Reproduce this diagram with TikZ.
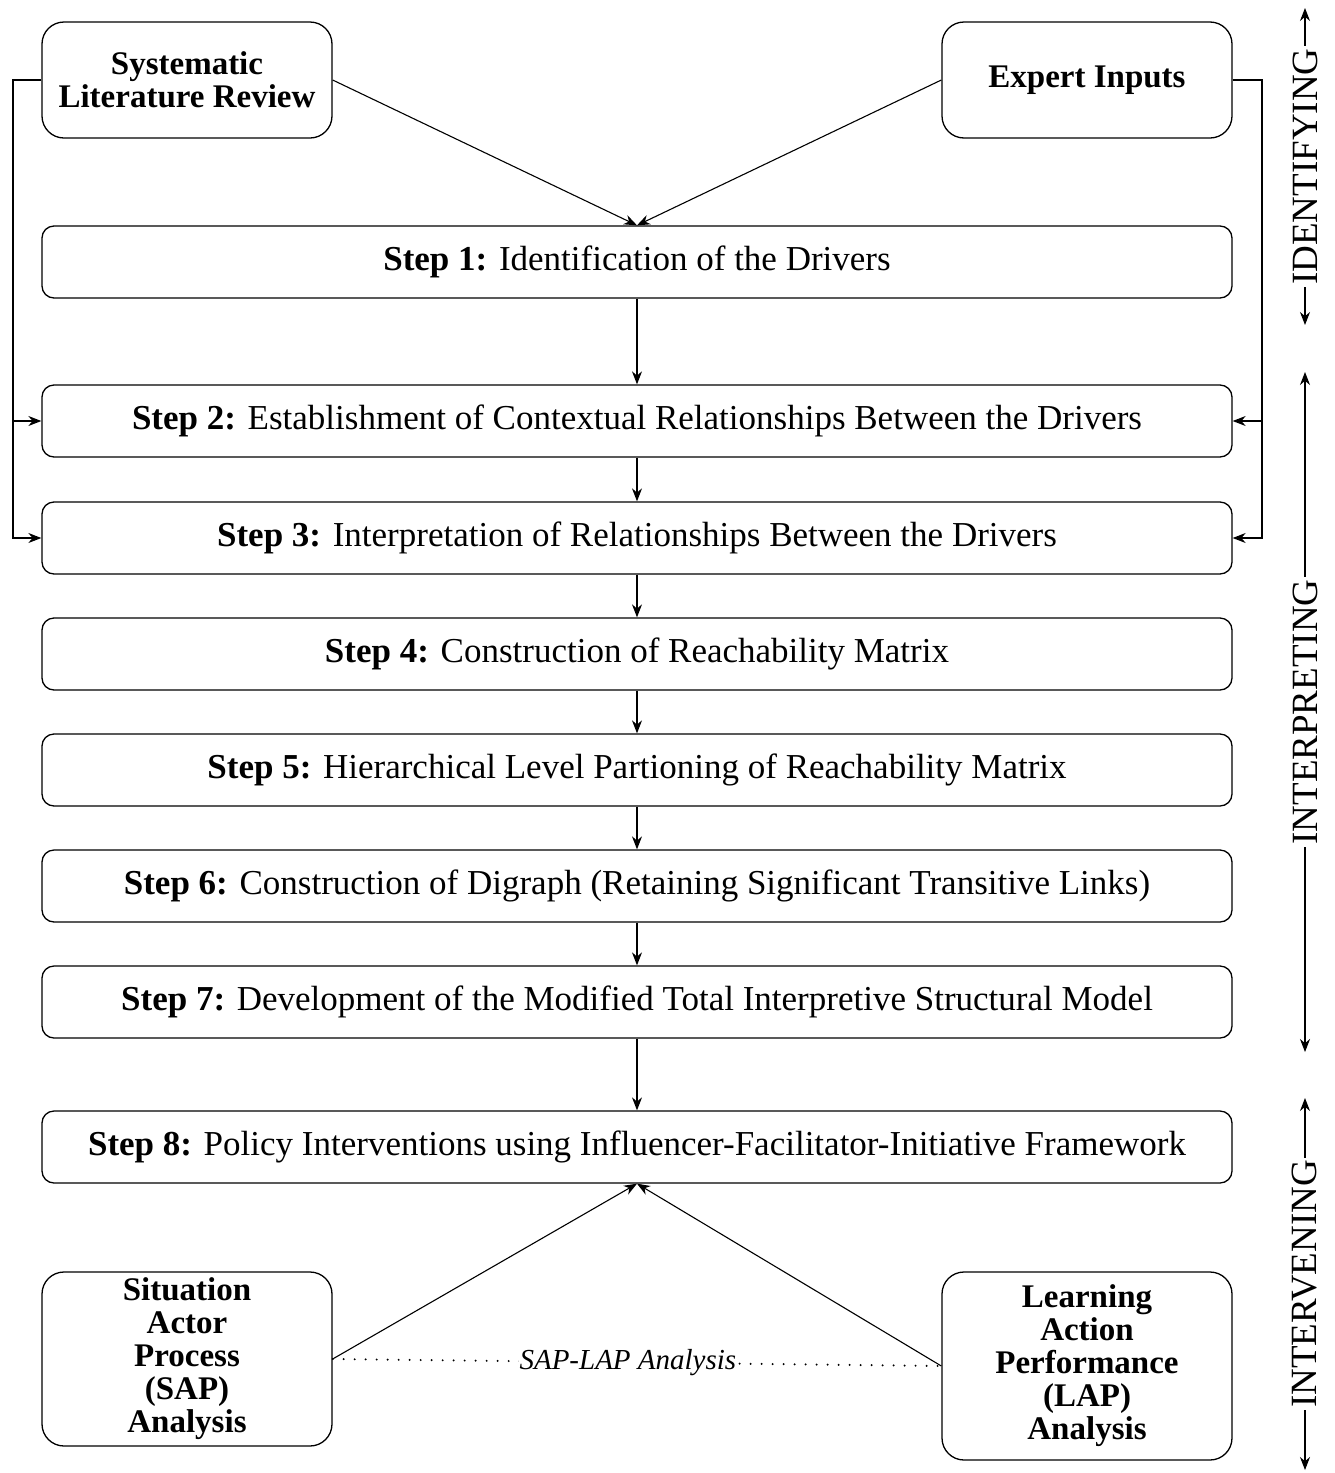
\documentclass[tikz,border=0pt]{standalone}
\usepackage{fontspec}
\setmainfont{Liberation Serif}
\usetikzlibrary{arrows.meta,positioning}

\begin{document}
\begin{tikzpicture}[
    x=1pt, y=-1pt,
    stepbox/.style={draw, rounded corners=12pt, line width=1.3pt, minimum width=1190pt, minimum height=72pt, inner sep=0pt, font=\fontsize{35}{38}\selectfont},
    srcbox/.style={draw, rounded corners=22pt, line width=1.3pt, minimum width=290pt, align=center, inner sep=0pt, font=\bfseries\fontsize{33}{33}\selectfont},
    phase/.style={rotate=90, fill=white, inner sep=2pt, font=\fontsize{37}{38}\selectfont},
    arr/.style={-{Stealth[length=13pt,width=10pt]}, line width=1.1pt},
    darr/.style={{Stealth[length=13pt,width=10pt]}-{Stealth[length=13pt,width=10pt]}, line width=1.1pt}
]
\useasboundingbox (0,0) rectangle (1335,1473);

% sources
\node[srcbox, minimum height=116pt] (slr) at (187,80) {Systematic\\Literature Review};
\node[srcbox, minimum height=116pt] (expert) at (1087,80) {Expert Inputs};

% steps
\node[stepbox] (step1) at (637,262) {\textbf{Step 1:} Identification of the Drivers};
\node[stepbox] (step2) at (637,421) {\textbf{Step 2:} Establishment of Contextual Relationships Between the Drivers};
\node[stepbox] (step3) at (637,538) {\textbf{Step 3:} Interpretation of Relationships Between the Drivers};
\node[stepbox] (step4) at (637,654) {\textbf{Step 4:} Construction of Reachability Matrix};
\node[stepbox] (step5) at (637,770) {\textbf{Step 5:} Hierarchical Level Partioning of Reachability Matrix};
\node[stepbox] (step6) at (637,886) {\textbf{Step 6:} Construction of Digraph (Retaining Significant Transitive Links)};
\node[stepbox] (step7) at (637,1002) {\textbf{Step 7:} Development of the Modified Total Interpretive Structural Model};
\node[stepbox] (step8) at (637,1147) {\textbf{Step 8:} Policy Interventions using Influencer-Facilitator-Initiative Framework};

% analyses
\node[srcbox, minimum height=174pt] (sap) at (187,1359) {Situation\\Actor\\Process\\(SAP)\\Analysis};
\node[srcbox, minimum height=188pt] (lap) at (1087,1366) {Learning\\Action\\Performance\\(LAP)\\Analysis};

\draw[arr] (slr.east) -- (step1.north);
\draw[arr] (expert.west) -- (step1.north);
\draw[arr] (step1) -- (step2);
\draw[arr] (step2) -- (step3);
\draw[arr] (step3) -- (step4);
\draw[arr] (step4) -- (step5);
\draw[arr] (step5) -- (step6);
\draw[arr] (step6) -- (step7);
\draw[arr] (step7) -- (step8);
\draw[arr] (sap.east) -- (step8.south);
\draw[arr] (lap.west) -- (step8.south);

% side feeds into step 2 and step 3
\coordinate (lbus) at (13,80);
\coordinate (rbus) at (1262,80);
\draw[arr] (slr.west) -- (lbus) |- (step3.west);
\draw[arr] (lbus |- step2.west) -- (step2.west);
\draw[arr] (expert.east) -- (rbus) |- (step3.east);
\draw[arr] (rbus |- step2.east) -- (step2.east);

% SAP-LAP link
\draw[line width=2.2pt, line cap=round, dash pattern=on 0pt off 11pt] (sap.east) -- (lap.west)
    node[pos=0.485, fill=white, inner sep=1pt, font=\itshape\fontsize{29}{30}\selectfont] (saplap) {SAP-LAP Analysis};

% phases
\coordinate (idtop) at (1305,8);
\coordinate (idbot) at (1305,325);
\coordinate (intop) at (1305,372);
\coordinate (inbot) at (1305,1052);
\coordinate (ivtop) at (1305,1098);
\coordinate (ivbot) at (1305,1470);
\draw[darr] (idbot) -- (idtop) node[midway, phase] (ident) {IDENTIFYING};
\draw[darr] (inbot) -- (intop) node[midway, phase] (interp) {INTERPRETING};
\draw[darr] (ivbot) -- (ivtop) node[midway, phase] (interv) {INTERVENING};
\end{tikzpicture}
\end{document}
